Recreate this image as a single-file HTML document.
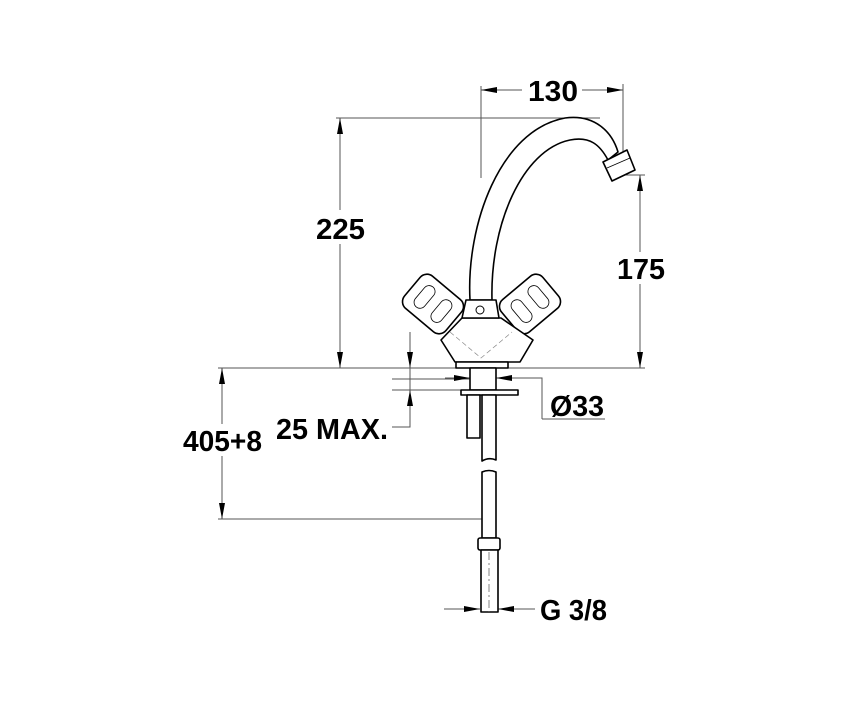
<!DOCTYPE html>
<html><head><style>
html,body{margin:0;padding:0;background:#fff;}
svg{display:block;}
text{font-family:"Liberation Sans",sans-serif;font-weight:bold;fill:#000;}
</style></head><body>
<svg width="850" height="702" viewBox="0 0 850 702" xmlns="http://www.w3.org/2000/svg">
<defs>
<marker id="a" viewBox="0 0 16 8" refX="16" refY="4" markerWidth="16" markerHeight="8" markerUnits="userSpaceOnUse" orient="auto-start-reverse"><path d="M0,1 L16,4 L0,7 z" fill="#000"/></marker>
</defs>
<g stroke="#555" stroke-width="1" fill="none">
<line x1="336" y1="118" x2="600" y2="118"/>
<line x1="218" y1="368" x2="645" y2="368"/>
<line x1="218" y1="519" x2="485" y2="519"/>
<line x1="481" y1="86" x2="481" y2="178"/>
<line x1="623" y1="84" x2="623" y2="152"/>
<line x1="612" y1="175" x2="645" y2="175"/>
<line x1="392" y1="379" x2="470" y2="379"/>
<line x1="392" y1="390" x2="470" y2="390"/>
<line x1="481" y1="90" x2="522" y2="90" marker-start="url(#a)"/>
<line x1="582" y1="90" x2="623" y2="90" marker-end="url(#a)"/>
<line x1="340" y1="118" x2="340" y2="210" marker-start="url(#a)"/>
<line x1="340" y1="244" x2="340" y2="368" marker-end="url(#a)"/>
<line x1="640" y1="175" x2="640" y2="252" marker-start="url(#a)"/>
<line x1="640" y1="284" x2="640" y2="368" marker-end="url(#a)"/>
<line x1="222" y1="368" x2="222" y2="424" marker-start="url(#a)"/>
<line x1="222" y1="456" x2="222" y2="519" marker-end="url(#a)"/>
<line x1="410" y1="332" x2="410" y2="368" marker-end="url(#a)"/>
<polyline points="392,427 410,427 410,390" marker-end="url(#a)"/>
<line x1="410" y1="368" x2="410" y2="390"/>
<line x1="445" y1="378" x2="470" y2="378" marker-end="url(#a)"/>
<polyline points="542,419 542,378 496,378" marker-end="url(#a)"/>
<line x1="542" y1="419" x2="605" y2="419"/>
<line x1="444" y1="609" x2="480" y2="609" marker-end="url(#a)"/>
<line x1="535" y1="609" x2="498" y2="609" marker-end="url(#a)"/>
</g>
<g stroke="#000" stroke-width="1.6" fill="#fff" stroke-linejoin="round">
<path d="M470,300 C466,225 500,130 565,118 C595,114 612,132 618,152 L608,160 C600,145 590,136 570,140 C522,150 490,225 492,300 Z"/>
<polygon points="603,162 627,150 635,170 612,181"/>
<line x1="607" y1="168" x2="630" y2="158" stroke-width="0.8"/>
<g transform="translate(433,304) rotate(40)"><rect x="-27" y="-21" width="54" height="42" rx="9"/><rect x="-17" y="-13" width="12" height="26" rx="6" stroke-width="0.8"/><rect x="5" y="-13" width="12" height="26" rx="6" stroke-width="0.8"/></g>
<g transform="translate(530,304) rotate(-40)"><rect x="-27" y="-21" width="54" height="42" rx="9"/><rect x="-17" y="-13" width="12" height="26" rx="6" stroke-width="0.8"/><rect x="5" y="-13" width="12" height="26" rx="6" stroke-width="0.8"/></g>
<polygon points="462,318 501,318 533,340 520,362 455,362 441,340"/>
<polyline points="450,332 481,358 512,332" stroke="#888" stroke-width="0.7" stroke-dasharray="5,3" fill="none"/>
<polygon points="466,300 496,300 499,318 462,318"/>
<circle cx="480" cy="310" r="4" stroke-width="1"/>
<rect x="456" y="362" width="52" height="6"/>
<rect x="470" y="368" width="26" height="22"/>
<rect x="461" y="390" width="57" height="5"/>
<rect x="467" y="395" width="13" height="43"/>
<path d="M482,395 L496,395 L496,460 Q489,457 482,461 Z"/>
<path d="M482,472 Q489,469 496,472 L496,538 L482,538 Z"/>
<rect x="478" y="538" width="22" height="12" rx="2"/>
<rect x="481" y="550" width="17" height="62"/>
</g>
<line x1="489" y1="552" x2="489" y2="612" stroke="#666" stroke-width="0.8" stroke-dasharray="8,3,2,3"/>
<g font-size="29">
<text x="528" y="101" textLength="50" lengthAdjust="spacingAndGlyphs">130</text>
<text x="316" y="239" textLength="49" lengthAdjust="spacingAndGlyphs">225</text>
<text x="617" y="279" textLength="48" lengthAdjust="spacingAndGlyphs">175</text>
<text x="183" y="451" textLength="79" lengthAdjust="spacingAndGlyphs">405+8</text>
<text x="276" y="439" textLength="112" lengthAdjust="spacingAndGlyphs">25 MAX.</text>
<text x="550" y="416" textLength="54" lengthAdjust="spacingAndGlyphs">Ø33</text>
<text x="540" y="620" textLength="67" lengthAdjust="spacingAndGlyphs">G 3/8</text>
</g>
</svg>
</body></html>
